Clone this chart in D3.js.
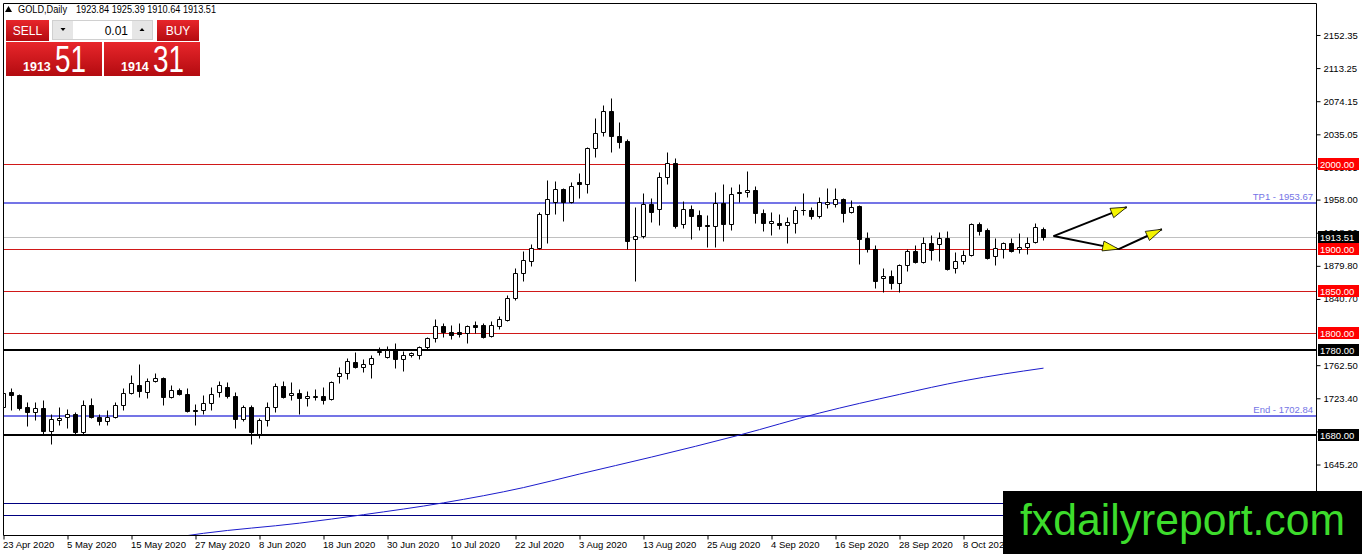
<!DOCTYPE html>
<html>
<head>
<meta charset="utf-8">
<script src="https://cdn.jsdelivr.net/npm/d3@7"></script>
<style>
  html, body { margin: 0; padding: 0; background: #fff; overflow: hidden; }
  svg { display: block; font-family: "Liberation Sans", Arial, sans-serif; }
</style>
</head>
<body>
<div id="chart"></div>
<script>
// GOLD daily bars, 23 Apr 2020 .. 22 Oct 2020 (bar index 0..130)
const open = [
  1713.1,1730.8,1727.3,1713.1,1707.2,1712.0,1684.8,1697.8,1701.3,1704.9,
  1683.6,1715.5,1701.3,1696.6,1701.3,1715.5,1729.6,1739.1,1730.8,1743.8,
  1747.4,1725.0,1733.2,1728.5,1709.6,1709.6,1717.8,1730.8,1736.7,1726.1,
  1699.0,1713.1,1681.2,1697.8,1713.1,1737.9,1727.3,1729.6,1723.7,1725.0,
  1726.1,1722.6,1749.7,1753.3,1766.2,1760.3,1763.9,1778.0,1772.1,1780.4,
  1769.8,1774.5,1774.5,1783.9,1794.6,1808.7,1801.7,1801.7,1800.5,1809.9,
  1809.9,1797.0,1808.7,1815.8,1841.8,1871.3,1885.5,1900.8,1941.0,1955.1,
  1970.5,1955.1,1978.8,1976.4,2018.9,2037.8,2062.6,2033.1,2027.2,1911.5,
  1915.0,1952.8,1946.9,1984.7,2001.2,1929.2,1946.9,1939.8,1928.0,1926.8,
  1954.0,1929.2,1966.9,1966.9,1969.3,1942.1,1930.3,1930.3,1928.0,1930.3,
  1945.7,1945.7,1938.6,1952.8,1952.8,1958.7,1943.3,1950.4,1912.6,1899.7,
  1865.4,1867.8,1859.5,1880.8,1897.3,1884.3,1906.7,1905.6,1912.6,1877.2,
  1885.5,1892.6,1929.2,1922.1,1891.4,1899.7,1906.7,1899.7,1902.0,1907.9,
  1923.84
];
const high = [
  1736.7,1735.5,1728.5,1719.0,1719.0,1721.4,1704.9,1713.1,1710.8,1707.2,
  1721.4,1723.7,1704.9,1709.6,1719.0,1735.5,1750.9,1763.9,1747.4,1753.3,
  1748.6,1739.1,1735.5,1735.5,1716.7,1727.3,1736.7,1743.8,1742.6,1730.8,
  1715.5,1715.5,1700.1,1719.0,1741.5,1743.8,1742.6,1734.4,1732.0,1734.4,
  1736.7,1743.8,1760.3,1771.0,1778.0,1769.8,1774.5,1783.9,1785.1,1788.7,
  1779.2,1778.0,1785.1,1795.8,1817.0,1812.3,1809.9,1812.3,1809.9,1814.6,
  1812.3,1814.6,1820.5,1845.3,1877.2,1897.3,1905.6,1943.3,1981.1,1979.9,
  1971.7,1978.8,1989.4,2020.1,2054.3,2069.7,2077.9,2049.6,2029.5,1949.2,
  1965.8,1959.9,1990.6,2014.2,2007.1,1956.3,1951.6,1945.7,1939.8,1966.9,
  1976.4,1972.8,1976.4,1991.7,1974.0,1946.9,1943.3,1941.0,1937.4,1950.4,
  1965.8,1949.2,1961.0,1971.7,1971.7,1959.9,1957.5,1951.6,1919.7,1904.4,
  1877.2,1874.9,1881.9,1899.7,1904.4,1913.8,1916.2,1919.7,1920.9,1896.1,
  1898.5,1930.3,1931.5,1924.4,1912.6,1907.9,1912.6,1918.5,1913.8,1930.3,
  1925.39
];
const low = [
  1709.6,1709.6,1709.6,1690.7,1697.8,1681.2,1669.4,1691.9,1688.3,1681.2,
  1681.2,1700.1,1691.9,1691.9,1700.1,1709.6,1728.5,1725.0,1723.7,1742.6,
  1715.5,1723.7,1727.3,1707.2,1691.9,1704.9,1709.6,1725.0,1723.7,1688.3,
  1696.6,1669.4,1676.5,1690.7,1707.2,1723.7,1721.4,1704.9,1714.3,1721.4,
  1716.7,1721.4,1741.5,1746.2,1759.1,1754.4,1747.4,1774.5,1771.0,1759.1,
  1755.6,1772.1,1769.8,1780.4,1789.9,1795.8,1793.4,1795.8,1788.7,1800.5,
  1794.6,1795.8,1805.2,1814.6,1839.4,1861.9,1879.6,1899.7,1906.7,1941.0,
  1932.7,1954.0,1959.9,1965.8,2008.3,2033.1,2014.2,2018.9,1899.7,1861.9,
  1912.6,1931.5,1928.0,1976.4,1924.4,1924.4,1911.5,1922.1,1902.0,1902.0,
  1909.1,1922.1,1955.1,1961.0,1930.3,1920.9,1916.2,1923.3,1906.7,1918.5,
  1939.8,1935.1,1936.3,1948.1,1949.2,1931.5,1942.1,1881.9,1896.1,1853.6,
  1848.9,1852.4,1848.9,1873.7,1883.1,1883.1,1886.7,1885.5,1874.9,1871.3,
  1881.9,1891.4,1916.2,1887.8,1880.8,1889.0,1896.1,1894.9,1893.7,1906.7,
  1910.64
];
const close = [
  1729.6,1727.3,1712.0,1707.2,1712.0,1684.8,1699.0,1700.1,1704.9,1683.6,
  1715.5,1701.3,1696.6,1701.3,1715.5,1729.6,1741.5,1732.0,1743.8,1747.4,
  1725.0,1733.2,1728.5,1708.4,1708.4,1717.8,1728.5,1739.1,1726.1,1699.0,
  1713.1,1683.6,1697.8,1713.1,1737.9,1725.0,1729.6,1723.7,1726.1,1725.6,
  1721.4,1742.6,1753.3,1767.4,1760.3,1763.9,1771.0,1779.2,1780.4,1769.8,
  1774.5,1776.9,1783.9,1794.6,1808.7,1801.7,1798.1,1799.3,1808.7,1807.5,
  1795.8,1809.9,1817.0,1841.8,1871.3,1886.7,1900.8,1941.0,1958.7,1970.5,
  1955.1,1974.0,1976.4,2018.9,2036.6,2062.6,2033.1,2026.0,1909.1,1915.0,
  1952.8,1943.3,1984.7,2001.2,1926.8,1946.9,1938.6,1926.8,1927.3,1954.0,
  1929.2,1964.6,1965.8,1969.3,1942.1,1930.3,1932.7,1928.0,1931.5,1945.7,
  1945.2,1938.6,1955.1,1955.1,1958.7,1942.1,1949.2,1911.5,1899.7,1861.9,
  1867.8,1859.5,1880.8,1897.3,1884.3,1906.7,1898.5,1912.6,1876.0,1885.5,
  1892.6,1929.2,1920.9,1889.0,1900.8,1906.7,1897.3,1902.0,1906.7,1925.1,
  1913.51
];

// moving average: [bar, price]
const maPoints = [
  [22, 1560], [25, 1564], [37, 1576], [45, 1586], [55, 1600], [65, 1618],
  [72, 1634], [81, 1654], [92, 1680], [102, 1706], [112, 1728], [120, 1744], [130, 1759]
];

// x axis labels
const labelBars  = [0, 8, 16, 24, 32, 40, 48, 56, 64, 72, 80, 88, 96, 104, 112, 120];
const dateLabels = ['23 Apr 2020', '5 May 2020', '15 May 2020', '27 May 2020', '8 Jun 2020',
  '18 Jun 2020', '30 Jun 2020', '10 Jul 2020', '22 Jul 2020', '3 Aug 2020', '13 Aug 2020',
  '25 Aug 2020', '4 Sep 2020', '16 Sep 2020', '28 Sep 2020', '8 Oct 2020'];

// price axis labels (the ones not fully covered by level tags / watermark)
const priceTicks = [2152.35, 2113.25, 2074.15, 2035.05, 1995.95, 1958.00, 1918.90, 1879.80,
  1840.70, 1762.50, 1723.40, 1684.30, 1645.20];

// horizontal levels
const redLevels   = [2000, 1900, 1850, 1800];
const blackLevels = [1780, 1680];
const navyLevels  = [1600, 1586];
const targetNames  = ['TP1', 'End'];
const targetPrices = [1953.67, 1702.84];
const bid = 1913.51, ask = 1914.31;
const header = ['1923.84', '1925.39', '1910.64', '1913.51'];

// drawn arrows: [bar, price] from -> to
const arrows = [
  [[131.25, 1914.9], [140.4, 1949.1]],
  [[131.25, 1914.9], [139.4, 1899.5]],
  [[139.4, 1899.5], [144.8, 1923.0]]
];

const W = 1362, H = 554;
const L = 3, T = 3, R = 1316, B = 535;

const svg = d3.select('#chart').append('svg')
  .attr('width', W).attr('height', H)
  .attr('viewBox', `0 0 ${W} ${H}`);

const x = d3.scaleLinear().domain([0, 130]).range([3.5, 1043.5]);
const y = d3.scaleLinear().domain([1562.0, 2190.1]).range([B, T]);
const cy = v => Math.round(y(v)) + 0.5;

const defs = svg.append('defs');
defs.append('clipPath').attr('id', 'plot')
  .append('rect').attr('x', L).attr('y', T).attr('width', R - L).attr('height', B - T);

const grad = defs.append('linearGradient').attr('id', 'red').attr('x1', 0).attr('y1', 0).attr('x2', 0).attr('y2', 1);
grad.append('stop').attr('offset', '0%').attr('stop-color', '#e8262b');
grad.append('stop').attr('offset', '100%').attr('stop-color', '#b30b10');

const plot = svg.append('g').attr('clip-path', 'url(#plot)');

// levels
const hline = (p, color, width) => plot.append('line')
  .attr('x1', L).attr('x2', R)
  .attr('y1', width === 2 ? Math.round(y(p)) : cy(p))
  .attr('y2', width === 2 ? Math.round(y(p)) : cy(p))
  .attr('stroke', color).attr('stroke-width', width);

navyLevels.forEach(p => hline(p, '#000080', 1));
hline(bid, '#c0c0c0', 1);
redLevels.forEach(p => hline(p, '#d01818', 1));
blackLevels.forEach(p => hline(p, '#000', 2));
targetPrices.forEach(p => hline(p, '#7474e6', 2));

// moving average
plot.append('path')
  .datum(maPoints)
  .attr('fill', 'none')
  .attr('stroke', '#1c1ccc')
  .attr('stroke-width', 1)
  .attr('d', d3.line().x(d => x(d[0])).y(d => y(d[1])).curve(d3.curveMonotoneX));

// candles
const bars = d3.range(open.length).map(i => ({ i, o: open[i], h: high[i], l: low[i], c: close[i] }));
const candle = plot.selectAll('.bar').data(bars).join('g').attr('class', 'bar');

candle.append('line')
  .attr('x1', d => x(d.i)).attr('x2', d => x(d.i))
  .attr('y1', d => cy(d.h)).attr('y2', d => cy(d.l))
  .attr('stroke', '#000');

candle.append('path')
  .attr('d', d => {
    const top = cy(Math.max(d.o, d.c)), bot = cy(Math.min(d.o, d.c));
    const x0 = x(d.i) - 2;
    return `M${x0},${top}H${x0 + 4}V${bot}H${x0}Z`;
  })
  .attr('fill', d => d.c >= d.o ? '#fff' : '#000')
  .attr('stroke', '#000');

// target texts
targetPrices.forEach((p, k) => {
  svg.append('text')
    .attr('x', R - 3).attr('y', Math.round(y(p)) - 3)
    .attr('text-anchor', 'end')
    .attr('font-size', 9.5)
    .attr('fill', '#7474e6')
    .text(`${targetNames[k]} - ${p.toFixed(2)}`);
});

// arrows
arrows.forEach(([a, b]) => {
  const x1 = x(a[0]), y1 = y(a[1]), x2 = x(b[0]), y2 = y(b[1]);
  plot.append('line')
    .attr('x1', x1).attr('y1', y1).attr('x2', x2).attr('y2', y2)
    .attr('stroke', '#000').attr('stroke-width', 2);
  const ang = Math.atan2(y2 - y1, x2 - x1);
  const len = 16, half = 5;
  const bx = x2 - len * Math.cos(ang), by = y2 - len * Math.sin(ang);
  const nx = -Math.sin(ang) * half, ny = Math.cos(ang) * half;
  plot.append('path')
    .attr('d', `M${x2},${y2}L${bx + nx},${by + ny}L${bx - nx},${by - ny}Z`)
    .attr('fill', '#f4f400').attr('stroke', '#000').attr('stroke-width', 0.8);
});

// frame
svg.append('path')
  .attr('d', `M${L + 0.5},${B + 0.5}V${T + 0.5}H${R + 0.5}V${B + 0.5}H${L + 0.5}`)
  .attr('fill', 'none').attr('stroke', '#000');

// right price axis
const yAxis = svg.append('g')
  .attr('transform', `translate(${R + 0.5},0)`)
  .call(d3.axisRight(y).tickValues(priceTicks).tickFormat(d3.format('.2f')).tickSize(4).tickPadding(3).tickSizeOuter(0));
yAxis.select('.domain').remove();
yAxis.selectAll('text').attr('font-size', 9.5).attr('font-family', '"Liberation Sans", Arial, sans-serif').attr('fill', '#000');
yAxis.selectAll('line').attr('stroke', '#000');

// bottom date axis
const xAxis = svg.append('g')
  .attr('transform', `translate(0,${B + 0.5})`)
  .call(d3.axisBottom(x).tickValues(labelBars).tickFormat((d, k) => dateLabels[k]).tickSize(4).tickPadding(2).tickSizeOuter(0));
xAxis.select('.domain').remove();
xAxis.selectAll('text')
  .attr('text-anchor', 'start').attr('dx', -1)
  .attr('font-size', 9.5).attr('font-family', '"Liberation Sans", Arial, sans-serif').attr('fill', '#000');
xAxis.selectAll('line').attr('stroke', '#000');

// level labels on the price axis
const tag = (p, fill) => {
  const yy = Math.round(y(p));
  svg.append('rect').attr('x', R + 2).attr('y', yy - 6).attr('width', 41).attr('height', 12).attr('fill', fill);
  svg.append('text').attr('x', R + 4).attr('y', yy + 4)
    .attr('font-size', 9.5).attr('fill', '#fff').text(p.toFixed(2));
};
redLevels.forEach(p => tag(p, '#f00'));
blackLevels.forEach(p => tag(p, '#000'));
tag(bid, '#000');

// header
svg.append('path').attr('d', 'M5,12L8.5,6L12,12Z').attr('fill', '#000');
svg.append('text').attr('x', 18).attr('y', 13).attr('font-size', 10).attr('fill', '#000')
  .attr('textLength', 49).attr('lengthAdjust', 'spacingAndGlyphs')
  .text('GOLD,Daily');
svg.append('text').attr('x', 76).attr('y', 13).attr('font-size', 10).attr('fill', '#000')
  .attr('textLength', 140).attr('lengthAdjust', 'spacingAndGlyphs')
  .text(header.join(' '));

// one-click trading panel
const panel = svg.append('g');
panel.append('rect').attr('x', 6).attr('y', 20).attr('width', 43).attr('height', 21).attr('fill', 'url(#red)');
panel.append('text').attr('x', 27.5).attr('y', 35).attr('text-anchor', 'middle').attr('font-size', 12).attr('fill', '#fff').text('SELL');
panel.append('rect').attr('x', 157).attr('y', 20).attr('width', 42).attr('height', 21).attr('fill', 'url(#red)');
panel.append('text').attr('x', 178).attr('y', 35).attr('text-anchor', 'middle').attr('font-size', 12).attr('fill', '#fff').text('BUY');

panel.append('rect').attr('x', 52.5).attr('y', 20.5).attr('width', 100).attr('height', 19).attr('fill', '#fff').attr('stroke', '#d0d0d0');
panel.append('rect').attr('x', 53).attr('y', 21).attr('width', 20).attr('height', 18).attr('fill', '#e6e6e6');
panel.append('rect').attr('x', 132).attr('y', 21).attr('width', 20).attr('height', 18).attr('fill', '#e6e6e6');
panel.append('path').attr('d', 'M60.5,28H65.5L63,31Z').attr('fill', '#000');
panel.append('path').attr('d', 'M139.5,31H144.5L142,28Z').attr('fill', '#000');
panel.append('text').attr('x', 128).attr('y', 35).attr('text-anchor', 'end').attr('font-size', 12).attr('fill', '#000').text('0.01');

const priceBox = (x0, value) => {
  const big = value.toFixed(2).split('.');
  panel.append('rect').attr('x', x0).attr('y', 42).attr('width', 96).attr('height', 34).attr('fill', 'url(#red)');
  panel.append('text').attr('x', x0 + 17).attr('y', 71).attr('font-size', 12.5).attr('font-weight', 'bold')
    .attr('fill', '#fff').text(big[0]);
  panel.append('text').attr('x', x0 + 49).attr('y', 72).attr('font-size', 36)
    .attr('textLength', 31).attr('lengthAdjust', 'spacingAndGlyphs')
    .attr('fill', '#fff').text(big[1]);
};
priceBox(6, bid);
priceBox(104, ask);

// watermark
svg.append('rect').attr('x', 1003).attr('y', 491).attr('width', W - 1003).attr('height', H - 491).attr('fill', '#000');
svg.append('text').attr('x', 1020).attr('y', 535)
  .attr('font-size', 44).attr('fill', '#3ddc2c')
  .attr('textLength', 325).attr('lengthAdjust', 'spacingAndGlyphs')
  .text('fxdailyreport.com');
</script>
</body>
</html>
